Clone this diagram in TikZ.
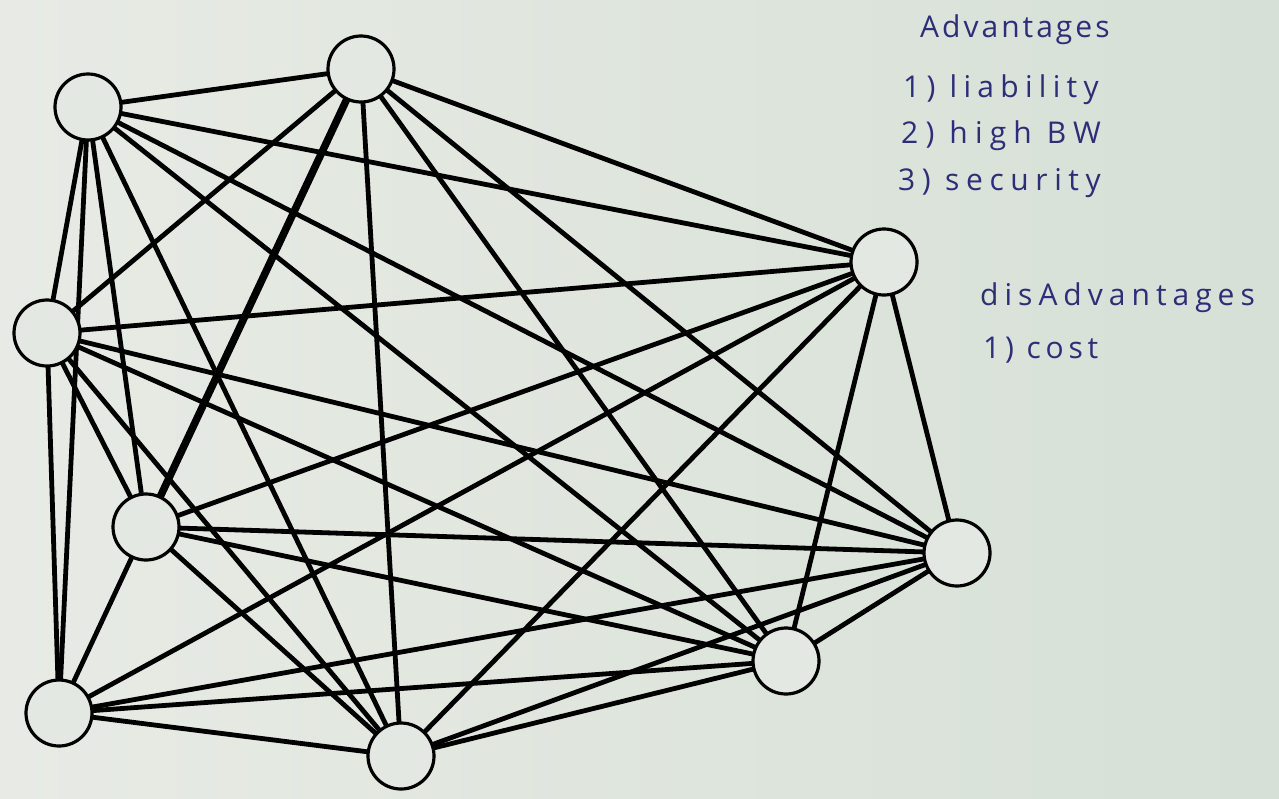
\documentclass[tikz,border=0pt]{standalone}
\usepackage{fontspec}
\newfontfamily\hand{Open Sans}
\definecolor{paperL}{RGB}{232,235,229}
\definecolor{paperR}{RGB}{214,224,214}
\definecolor{ink}{RGB}{45,45,120}
\definecolor{nodefill}{RGB}{228,232,226}
\tikzset{
  vtx/.style={circle, draw=black, line width=3.2pt, fill=nodefill, minimum size=66pt, inner sep=0pt},
  link/.style={line width=4.8pt, black},
  handtext/.style={text=ink, font=\hand\fontsize{30}{34}\selectfont\addfontfeatures{LetterSpace=#1}, anchor=west, inner sep=0pt},
  handtext/.default=8
}
\begin{document}
\begin{tikzpicture}[x=1pt,y=-1pt]
\shade[left color=paperL, right color=paperR] (0,0) rectangle (1279,798);
\useasboundingbox (0,0) rectangle (1279,798);
\coordinate (pA) at (88,107);
\coordinate (pB) at (361,69);
\coordinate (pC) at (884,262);
\coordinate (pD) at (47,333);
\coordinate (pE) at (146,527);
\coordinate (pF) at (957,553);
\coordinate (pG) at (786,661);
\coordinate (pH) at (59,713);
\coordinate (pI) at (401,756);
\foreach \a/\b in {A/B,A/C,A/D,A/E,A/F,A/G,A/H,A/I,
                   B/C,B/D,B/F,B/G,B/I,
                   C/D,C/E,C/F,C/G,C/H,C/I,
                   D/E,D/F,D/G,D/H,D/I,
                   E/F,E/G,E/H,E/I,
                   F/G,F/H,F/I,
                   G/H,G/I,
                   H/I}
  \draw[link] (p\a) -- (p\b);
\draw[link, line width=7.5pt] (pB) -- (pE);
\foreach \n in {A,B,C,D,E,F,G,H,I}
  \node[vtx] (\n) at (p\n) {};
\node[handtext=10] (t1) at (920,30) {Advantages};
\node[handtext=21] (t2) at (903,90) {1) liability};
\node[handtext=24] (t3) at (901,136) {2) high BW};
\node[handtext=22] (t4) at (898,183) {3) security};
\node[handtext=20] (t5) at (980,298) {disAdvantages};
\node[handtext=16] (t6) at (983,350) {1) cost};
\end{tikzpicture}
\end{document}
